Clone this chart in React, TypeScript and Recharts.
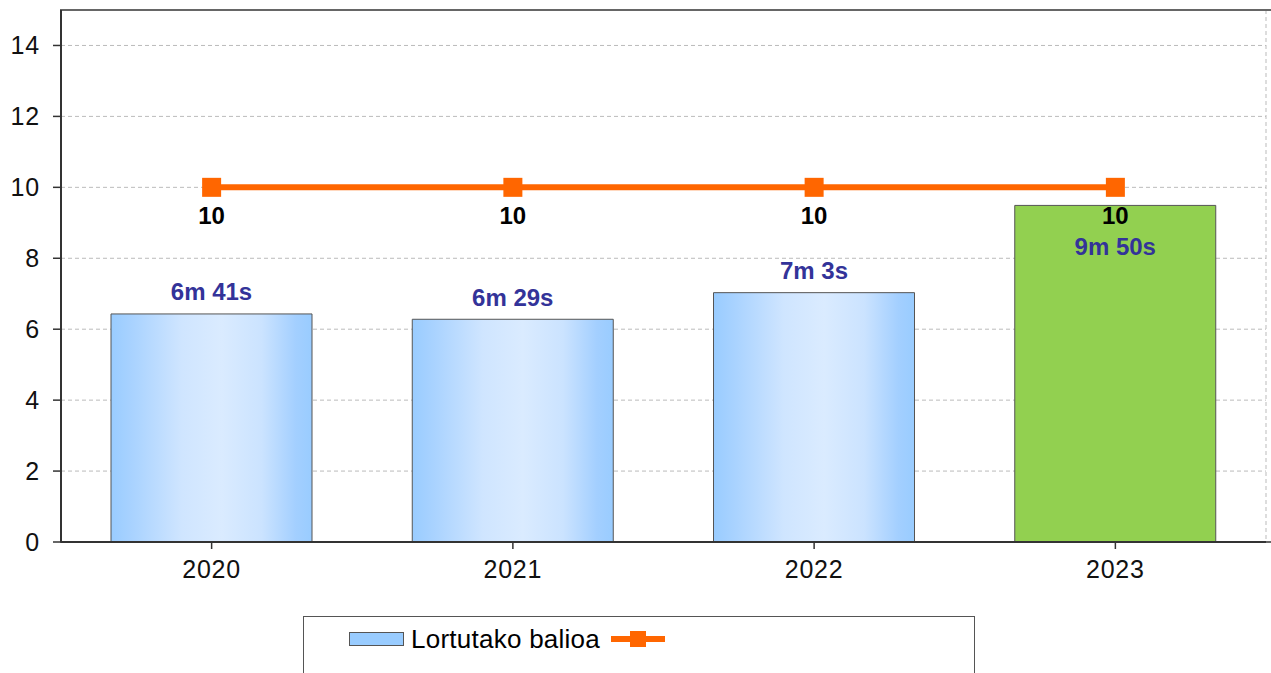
import React from 'react';
import {
  ComposedChart, Bar, Line, XAxis, YAxis, CartesianGrid, Legend, Cell,
  LabelList, ReferenceArea,
} from 'recharts';

const years = ['2020', '2021', '2022', '2023'];
const values = [6.43, 6.28, 7.03, 9.49];
const valueLabels = ['6m 41s', '6m 29s', '7m 3s', '9m 50s'];
const targets = [10, 10, 10, 10];
const yTicks = [0, 2, 4, 6, 8, 10, 12, 14];
const edgeTicks = [0, 1, 2, 3, 4];
const seriesName = 'Lortutako balioa';
const highlightYear = '2023';

const data = years.map((year, i) => ({
  year,
  value: values[i],
  label: valueLabels[i],
  target: targets[i],
}));

const FONT = '"Liberation Sans", Arial, sans-serif';
const ORANGE = '#FF6600';
const LABEL_BLUE = '#333399';

const BarLabel = (props: any) => {
  const { x, y, width, index } = props;
  const inside = targets[index] - values[index] < 1.5;
  const cx = x + width / 2;
  const cy = inside ? y + 41 : y - 22;
  return (
    <text x={cx} y={cy} textAnchor="middle" dominantBaseline="central"
      fontFamily={FONT} fontSize={24} fontWeight="bold" fill={LABEL_BLUE}>
      {valueLabels[index]}
    </text>
  );
};

const LineLabel = (props: any) => {
  const { x, y, value } = props;
  return (
    <text x={x} y={y + 28} textAnchor="middle" dominantBaseline="central"
      fontFamily={FONT} fontSize={24} fontWeight="bold" fill="#000">
      {value}
    </text>
  );
};

const SquareDot = (props: any) => {
  const { cx, cy } = props;
  if (cx == null || cy == null) return null;
  return <rect x={cx - 9.5} y={cy - 9.5} width={19} height={19} fill={ORANGE} />;
};

const LegendContent = () => (
  <div style={{
    width: 672, height: 80, boxSizing: 'border-box', border: '1px solid #555',
    background: '#fff', paddingLeft: 45, paddingTop: 7, display: 'flex',
    alignItems: 'flex-start', fontFamily: FONT,
  }}>
    <div style={{ display: 'flex', alignItems: 'center', height: 30 }}>
      <span style={{ display: 'inline-block', width: 55, height: 14, boxSizing: 'border-box',
        background: '#99CCFF', border: '1px solid #555' }} />
      <span style={{ fontSize: 26, marginLeft: 7, color: '#000', lineHeight: '30px', letterSpacing: 0.25 }}>{seriesName}</span>
      <svg width={56} height={18} style={{ marginLeft: 11 }}>
        <line x1={0} y1={9} x2={54} y2={9} stroke={ORANGE} strokeWidth={6} />
        <rect x={19} y={1} width={16} height={16} fill={ORANGE} />
      </svg>
    </div>
  </div>
);

const XTick = (props: any) => {
  const { x, y, payload } = props;
  return (
    <text x={x} y={y} dy={18} textAnchor="middle" dominantBaseline="central"
      fontFamily={FONT} fontSize={25} letterSpacing={0.8} fill="#111">
      {payload.value}
    </text>
  );
};

export default function App() {
  return (
    <div style={{ position: 'absolute', left: 0, top: 0, width: 1271, height: 673, background: '#fff', overflow: 'hidden' }}>
      <ComposedChart
        width={1271}
        height={673}
        data={data}
        margin={{ top: 10, right: 5, left: 0, bottom: 80 }}
        barCategoryGap="16.6%"
      >
        <defs>
          <linearGradient id="blueGrad" x1="0" y1="0" x2="1" y2="0">
            <stop offset="0" stopColor="#99CCFF" />
            <stop offset="0.1" stopColor="#A8D2FF" />
            <stop offset="0.35" stopColor="#CFE5FF" />
            <stop offset="0.55" stopColor="#DAEBFF" />
            <stop offset="0.75" stopColor="#CBE3FF" />
            <stop offset="0.92" stopColor="#A3CFFF" />
            <stop offset="1" stopColor="#99CCFF" />
          </linearGradient>
        </defs>
        <XAxis
          xAxisId="zCat"
          dataKey="year"
          height={50}
          tickSize={6}
          tickLine={{ stroke: '#333', strokeWidth: 1.5 }}
          axisLine={false}
          tick={<XTick />}
          interval={0}
        />
        <XAxis
          xAxisId="aEdge"
          type="number"
          domain={[0, 4]}
          ticks={edgeTicks}
          allowDataOverflow
          height={1}
          tick={false}
          tickSize={8}
          tickLine={{ stroke: '#333', strokeWidth: 1.5 }}
          axisLine={{ stroke: '#333', strokeWidth: 2 }}
        />
        <YAxis
          domain={[0, 15]}
          ticks={yTicks}
          width={61}
          tickSize={8}
          tickMargin={13}
          interval={0}
          tick={{ fontFamily: FONT, fontSize: 25, letterSpacing: 0.8, fill: '#111' }}
          tickLine={{ stroke: '#333', strokeWidth: 1.5 }}
          axisLine={{ stroke: '#333', strokeWidth: 2 }}
        />
        <CartesianGrid xAxisId="aEdge" stroke="#BBBBBB" strokeDasharray="4 3" />
        <ReferenceArea xAxisId="aEdge" x1={0} x2={4} y1={0} y2={15}
          fill="none" stroke="#666" strokeWidth={2} ifOverflow="visible" />
        <Bar xAxisId="zCat" dataKey="value" name={seriesName} stroke="#555" strokeWidth={1}
          isAnimationActive={false}>
          {data.map((d) => (
            <Cell key={d.year} fill={d.year === highlightYear ? '#92D050' : 'url(#blueGrad)'} />
          ))}
          <LabelList dataKey="label" content={<BarLabel />} />
        </Bar>
        <Line xAxisId="zCat" dataKey="target" stroke={ORANGE} strokeWidth={6}
          dot={<SquareDot />} activeDot={false} isAnimationActive={false}>
          <LabelList dataKey="target" content={<LineLabel />} />
        </Line>
        <Legend
          content={<LegendContent />}
          wrapperStyle={{ position: 'absolute', left: 303, top: 616, width: 672, height: 0, bottom: 'auto' }}
        />
      </ComposedChart>
    </div>
  );
}
